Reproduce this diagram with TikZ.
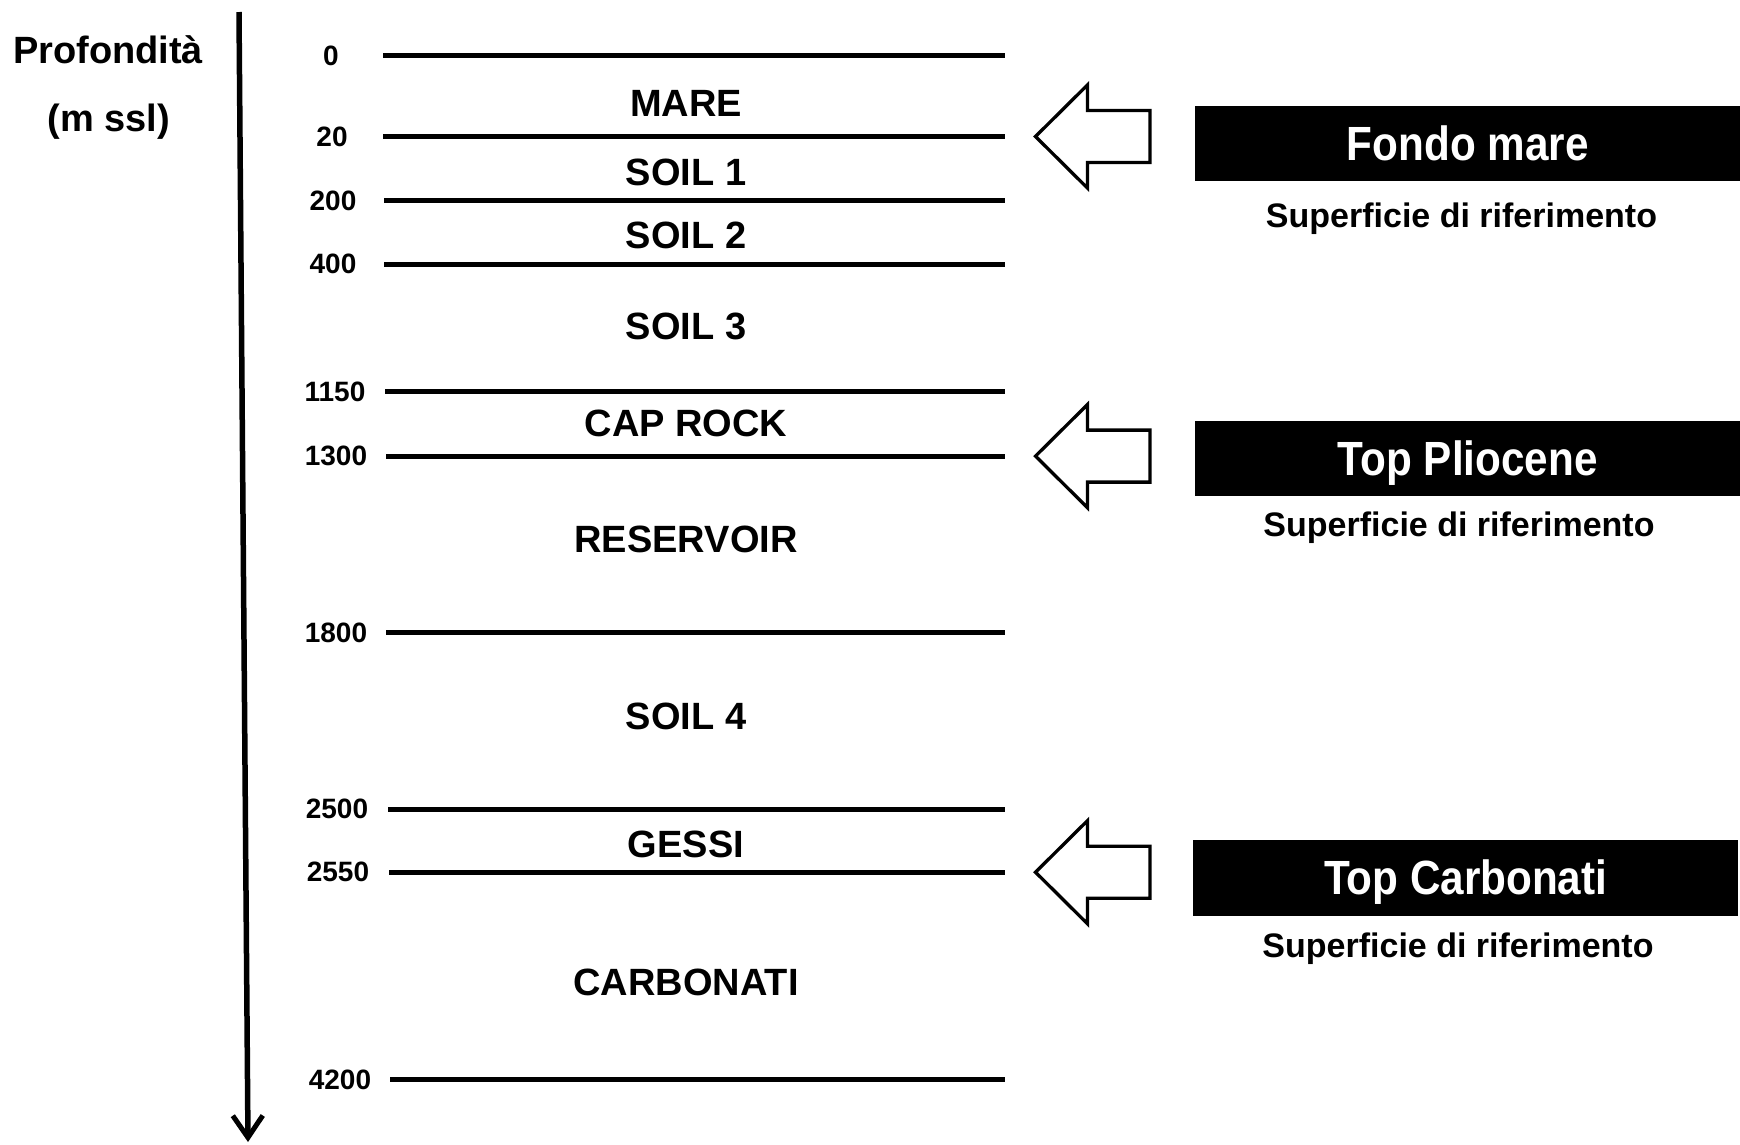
\documentclass[tikz,border=0pt]{standalone}
\usepackage{fontspec}
\setmainfont{Liberation Sans}
\newfontfamily\narrowsans[FakeStretch=0.88]{Liberation Sans}
\usetikzlibrary{arrows.meta}

\tikzset{
  axisline/.style={line width=5.5pt, -{Straight Barb[length=22pt,width=30pt,line width=5pt]}},
  layerline/.style={line width=5pt},
  depthlbl/.style={inner sep=0pt, font=\fontsize{28}{30}\selectfont\bfseries},
  layerlbl/.style={inner sep=0pt, text depth=0pt, font=\fontsize{38}{40}\selectfont\bfseries},
  titlelbl/.style={inner sep=0pt, font=\fontsize{38}{40}\selectfont\bfseries},
  surfbox/.style={fill=black, text=white, anchor=north west, inner sep=0pt,
    minimum width=545pt, minimum height=75.5pt, text height=34pt, text depth=0pt,
    font=\narrowsans\fontsize{48}{50}\selectfont\bfseries},
  surfsub/.style={inner sep=0pt, text depth=0pt, font=\fontsize{34}{36}\selectfont\bfseries},
  hollowarrow/.style={draw=black, fill=white, line width=3.3pt, line join=miter},
  pics/hollowleft/.style={code={
    \draw[hollowarrow] (0,0) -- (52,-51.6) -- (52,-26) -- (114.5,-26)
      -- (114.5,26) -- (52,26) -- (52,51.6) -- cycle;}}
}

\begin{document}
\begin{tikzpicture}[x=1pt,y=-1pt]
\useasboundingbox (0,0) rectangle (1740,1144);

% depth axis
\node[titlelbl] (ttl1) at (108,50) {Profondità};
\node[titlelbl] (ttl2) at (109,122) {(m ssl)};
\coordinate (axtop) at (239,12);
\coordinate (axbot) at (248,1142);
\draw[axisline] (axtop) -- (axbot);

% horizon lines with their depths
\foreach \d/\y/\lx/\wx in {0/55.5/331/383, 20/136.5/332/383, 200/200.9/333/384,
    400/264.1/333/384, 1150/391.7/335/385, 1300/456.1/336/386,
    1800/632.5/336/386, 2500/809/337/388, 2550/872.2/338/389, 4200/1079.7/340/390} {
  \node[depthlbl] (lbl\d) at (\lx,\y) {\d};
  \coordinate (h\d-w) at (\wx,\y);
  \coordinate (h\d-e) at (1005,\y);
  \draw[layerline] (h\d-w) -- (h\d-e);
}

% layer names
\node[layerlbl] (mare) at (686,103) {MARE};
\node[layerlbl] (soil1) at (686,172) {SOIL 1};
\node[layerlbl] (soil2) at (686,235) {SOIL 2};
\node[layerlbl] (soil3) at (686,326) {SOIL 3};
\node[layerlbl] (caprock) at (686,423) {CAP ROCK};
\node[layerlbl] (reservoir) at (686,539) {RESERVOIR};
\node[layerlbl] (soil4) at (686,716) {SOIL 4};
\node[layerlbl] (gessi) at (686,844.5) {GESSI};
\node[layerlbl] (carbonati) at (686,982) {CARBONATI};

% reference surfaces
\pic at (1035.5,136.5) {hollowleft};
\pic at (1035.5,456.1) {hollowleft};
\pic at (1035.5,872.2) {hollowleft};

\node[surfbox] (fondo) at (1195,105.4) {Fondo mare};
\node[surfsub] (fondosub) at (1461.5,215.3) {Superficie di riferimento};
\node[surfbox] (plio) at (1195,420.6) {Top Pliocene};
\node[surfsub] (pliosub) at (1459,523.8) {Superficie di riferimento};
\node[surfbox] (carb) at (1193,840) {Top Carbonati};
\node[surfsub] (carbsub) at (1458,945.5) {Superficie di riferimento};
\end{tikzpicture}
\end{document}
